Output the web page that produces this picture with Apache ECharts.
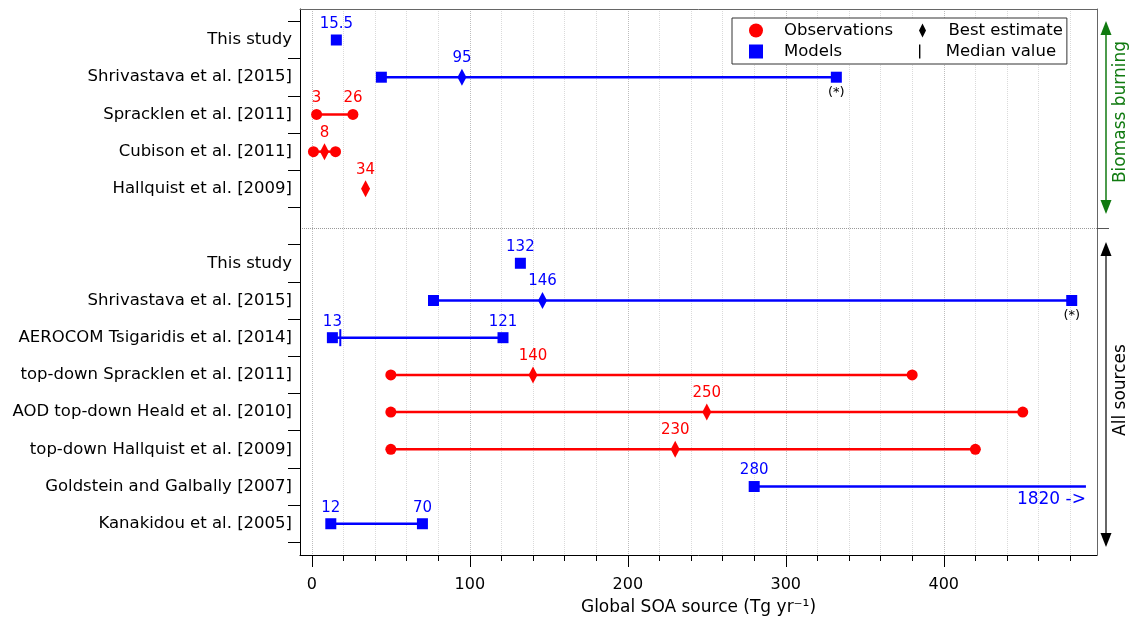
<!DOCTYPE html>
<html>
<head>
<meta charset="utf-8">
<script src="https://cdn.jsdelivr.net/npm/echarts@6/dist/echarts.min.js"></script>
<style>
  html, body { margin: 0; padding: 0; background: #fff; }
  #chart { width: 1135px; height: 627px; }
</style>
</head>
<body>
<div id="chart"></div>
<script>
// rows from top to bottom, row 6 is the empty gap between the two groups
var rowNames = ['This study', 'Shrivastava et al. [2015]', 'Spracklen et al. [2011]', 'Cubison et al. [2011]',
    'Hallquist et al. [2009]', '', 'This study', 'Shrivastava et al. [2015]', 'AEROCOM Tsigaridis et al. [2014]',
    'top-down Spracklen et al. [2011]', 'AOD top-down Heald et al. [2010]', 'top-down Hallquist et al. [2009]',
    'Goldstein and Galbally [2007]', 'Kanakidou et al. [2005]'];
var labelRows = [1, 2, 3, 4, 5, 7, 8, 9, 10, 11, 12, 13, 14];
var rowTicks = [0.5, 1.5, 2.5, 3.5, 4.5, 5.5, 6.5, 7.5, 8.5, 9.5, 10.5, 11.5, 12.5, 13.5, 14.5];
var dividerRow = 6.07;

var majorTicks = [0, 100, 200, 300, 400];
var minorTicks = [20, 40, 60, 80, 120, 140, 160, 180, 220, 240, 260, 280, 320, 340, 360, 380, 420, 440, 460, 480];

// [low, high, row, kind]  kind: 'o' observations, 'm' models
var ranges = [
    [44, 332, 2, 'm'], [3, 26, 3, 'o'], [1, 15, 4, 'o'],
    [77, 481, 8, 'm'], [13, 121, 9, 'm'], [50, 380, 10, 'o'], [50, 450, 11, 'o'],
    [50, 420, 12, 'o'], [280, 490, 13, 'm'], [12, 70, 14, 'm']
];
// [value, row, label]
var obsPoints = [
    [3, 3, '3'], [26, 3, '26'], [1, 4, ''], [15, 4, ''],
    [50, 10, ''], [380, 10, ''], [50, 11, ''], [450, 11, ''], [50, 12, ''], [420, 12, '']
];
var modelPoints = [
    [15.5, 1, '15.5'], [44, 2, ''], [332, 2, ''], [132, 7, '132'], [77, 8, ''], [481, 8, ''],
    [13, 9, '13'], [121, 9, '121'], [280, 13, '280'], [12, 14, '12'], [70, 14, '70']
];
// [value, row, label, kind]
var bestEstimates = [
    [95, 2, '95', 'm'], [8, 4, '8', 'o'], [34, 5, '34', 'o'], [146, 8, '146', 'm'],
    [140, 10, '140', 'o'], [250, 11, '250', 'o'], [230, 12, '230', 'o']
];
var medianValues = [[18, 9, '']];
var notes = [[332, 2, '(*)'], [481, 8, '(*)']];
var offScale = [[490, 13, '1820 ->']];

var BLUE = '#0000ff', RED = '#ff0000', GREEN = '#107a10';
var FONT = 'DejaVu Sans';
function kindColor(k) { return k === 'm' ? BLUE : RED; }

function pointItems(list, color) {
    return list.map(function (p) {
        var c = color || kindColor(p[3]);
        return { name: p[2], value: [p[0], p[1]], itemStyle: { color: c, opacity: 1 }, label: { color: c } };
    });
}
var pointLabel = { show: true, position: 'top', distance: 3, formatter: '{b}', fontSize: 15, fontFamily: FONT };

var chart = echarts.init(document.getElementById('chart'), null, { renderer: 'canvas' });

var option = {
    animation: false,
    backgroundColor: '#fff',
    textStyle: { fontFamily: FONT },
    grid: { left: 300, right: 38, top: 9, bottom: 72, outerBoundsMode: 'none', containLabel: false },
    legend: {
        left: 732, top: 18, width: 340,
        padding: [4, 4, 4, 17],
        itemGap: 4, itemWidth: 14, itemHeight: 14,
        borderColor: '#333', borderWidth: 1, borderRadius: 0,
        backgroundColor: '#fff',
        selectedMode: false,
        formatter: function (name) {
            return (name === 'Observations' || name === 'Models' ? '{a|' : '{b|') + name + '}';
        },
        textStyle: {
            fontSize: 16.5, color: '#000', fontFamily: FONT,
            rich: {
                a: { width: 131, padding: [0, 0, 0, 16], fontSize: 16.5, lineHeight: 19.4, fontFamily: FONT, color: '#000' },
                b: { width: 107, padding: [0, 0, 0, 14], fontSize: 16.5, lineHeight: 19.4, fontFamily: FONT, color: '#000' }
            }
        },
        data: [
            { name: 'Observations', icon: 'circle' },
            { name: 'Best estimate', icon: 'path://M5,0L10,10L5,20L0,10Z' },
            { name: 'Models', icon: 'path://M0,0L10,0L10,10L0,10Z' },
            { name: 'Median value', icon: 'path://M0,0L1.4,0L1.4,14L0,14Z' }
        ]
    },
    xAxis: [{
        type: 'value', position: 'bottom', min: -7.5, max: 497,
        axisLine: { show: true, onZero: false, lineStyle: { color: '#000', width: 1 } },
        axisTick: { show: true, length: 12, customValues: majorTicks, lineStyle: { color: '#000' } },
        axisLabel: { customValues: majorTicks, margin: 22, fontSize: 16, color: '#000', fontFamily: FONT },
        splitLine: { show: true, lineStyle: { type: 'dotted', color: '#bdbdbd' } },
        name: 'Global SOA source (Tg yr⁻¹)', nameLocation: 'middle', nameGap: 44,
        nameTextStyle: { fontSize: 17, color: '#000', fontFamily: FONT }
    }, {
        type: 'value', position: 'bottom', min: -7.5, max: 497,
        axisLine: { show: false, onZero: false },
        axisTick: { show: true, length: 6, customValues: minorTicks, lineStyle: { color: '#000' } },
        axisLabel: { show: false },
        splitLine: { show: true, lineStyle: { type: 'dotted', color: '#dadada' } }
    }, {
        type: 'value', position: 'top', min: -7.5, max: 497,
        axisLine: { show: true, onZero: false, lineStyle: { color: '#666', width: 1 } },
        axisTick: { show: false }, axisLabel: { show: false }, splitLine: { show: false }
    }],
    yAxis: [{
        type: 'value', position: 'left', inverse: true, min: 0.167, max: 14.84,
        axisLine: { show: true, onZero: false, lineStyle: { color: '#000', width: 1 } },
        axisTick: { show: true, length: 12, customValues: rowTicks, lineStyle: { color: '#000' } },
        axisLabel: {
            customValues: labelRows, margin: 8, fontSize: 16.5, color: '#000', fontFamily: FONT,
            formatter: function (v) { return rowNames[Math.round(v) - 1]; }
        },
        splitLine: { show: false }
    }, {
        type: 'value', position: 'right', inverse: true, min: 0.167, max: 14.84,
        axisLine: { show: true, onZero: false, lineStyle: { color: '#666', width: 1 } },
        axisTick: { show: true, length: 12, customValues: [dividerRow], lineStyle: { color: '#555' } },
        axisLabel: { show: false },
        splitLine: { show: true, lineStyle: { type: 'dotted', color: '#999', width: 1 } }
    }],
    series: [{
        name: 'ranges', type: 'custom', xAxisIndex: 0, yAxisIndex: 0,
        encode: { x: [0, 1], y: 2 },
        data: ranges.map(function (r) { return { value: r.slice(0, 3), itemStyle: { color: kindColor(r[3]) } }; }),
        renderItem: function (params, api) {
            var a = api.coord([api.value(0), api.value(2)]);
            var b = api.coord([api.value(1), api.value(2)]);
            return { type: 'line', shape: { x1: a[0], y1: a[1], x2: b[0], y2: b[1] },
                     style: { stroke: api.visual('color'), lineWidth: 2.5 } };
        },
        z: 2
    }, {
        name: 'Observations', type: 'scatter', symbol: 'circle', symbolSize: 11,
        itemStyle: { color: RED, opacity: 1 }, label: pointLabel,
        data: pointItems(obsPoints, RED), z: 3
    }, {
        name: 'Models', type: 'scatter', symbol: 'rect', symbolSize: 11,
        itemStyle: { color: BLUE, opacity: 1 }, label: pointLabel,
        data: pointItems(modelPoints, BLUE), z: 3
    }, {
        name: 'Best estimate', type: 'scatter', symbol: 'diamond', symbolSize: [9, 17],
        itemStyle: { color: '#000', opacity: 1 }, label: pointLabel,
        data: pointItems(bestEstimates), z: 4
    }, {
        name: 'Median value', type: 'scatter', symbol: 'rect', symbolSize: [2, 17],
        itemStyle: { color: '#000', opacity: 1 },
        data: pointItems(medianValues, BLUE), z: 4
    }, {
        name: 'notes', type: 'scatter', symbol: 'circle', symbolSize: 0,
        itemStyle: { color: '#fff', opacity: 1 },
        label: { show: true, position: 'bottom', distance: 9, formatter: '{b}', fontSize: 13, color: '#000', fontFamily: FONT },
        data: notes.map(function (p) { return { name: p[2], value: [p[0], p[1]] }; })
    }, {
        name: 'offscale', type: 'scatter', symbol: 'circle', symbolSize: 0,
        itemStyle: { color: '#fff', opacity: 1 },
        label: { show: true, position: 'bottom', align: 'right', distance: 5, formatter: '{b}', fontSize: 17, color: BLUE, fontFamily: FONT },
        data: offScale.map(function (p) { return { name: p[2], value: [p[0], p[1]] }; })
    }],
    graphic: [
        // biomass burning bracket
        { type: 'line', shape: { x1: 1106, y1: 30, x2: 1106, y2: 205 }, style: { stroke: GREEN, lineWidth: 1.5 } },
        { type: 'polygon', shape: { points: [[1106, 21], [1100.5, 35], [1111.5, 35]] }, style: { fill: GREEN } },
        { type: 'polygon', shape: { points: [[1106, 214], [1100.5, 200], [1111.5, 200]] }, style: { fill: GREEN } },
        { type: 'text', x: 1121, y: 112, rotation: Math.PI / 2,
          style: { text: 'Biomass burning', fill: GREEN, fontSize: 17, fontFamily: FONT, align: 'center', verticalAlign: 'middle' } },
        // all sources bracket
        { type: 'line', shape: { x1: 1106, y1: 250, x2: 1106, y2: 538 }, style: { stroke: '#333', lineWidth: 1.5 } },
        { type: 'polygon', shape: { points: [[1106, 242], [1100.5, 256], [1111.5, 256]] }, style: { fill: '#000' } },
        { type: 'polygon', shape: { points: [[1106, 547], [1100.5, 533], [1111.5, 533]] }, style: { fill: '#000' } },
        { type: 'text', x: 1121, y: 390, rotation: Math.PI / 2,
          style: { text: 'All sources', fill: '#000', fontSize: 17, fontFamily: FONT, align: 'center', verticalAlign: 'middle' } }
    ]
};

chart.setOption(option);
</script>
</body>
</html>
